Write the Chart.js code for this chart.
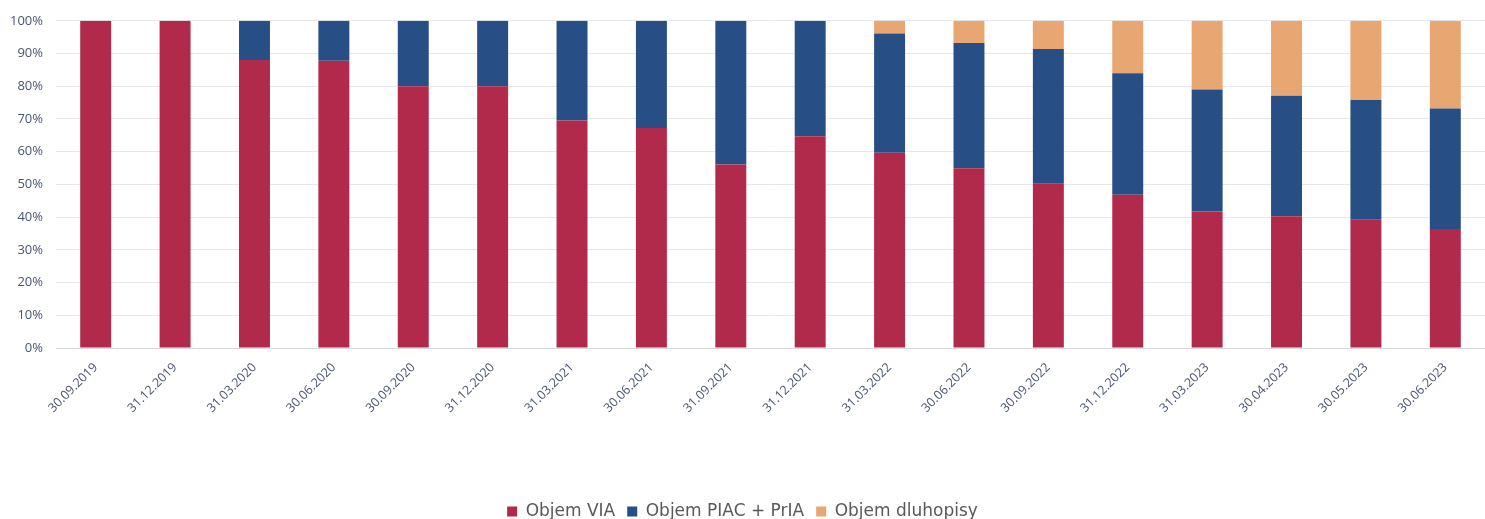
<!DOCTYPE html>
<html>
<head>
<meta charset="utf-8">
<script src="https://cdn.jsdelivr.net/npm/chart.js@4/dist/chart.umd.min.js"></script>
<style>
  html, body { margin: 0; padding: 0; background: #fff; }
  #wrap { width: 1485px; height: 519px; }
</style>
</head>
<body>
<div id="wrap"><canvas id="chart"></canvas></div>
<script>
const labels = ['30.09.2019', '31.12.2019', '31.03.2020', '30.06.2020', '30.09.2020', '31.12.2020',
    '31.03.2021', '30.06.2021', '31.09.2021', '31.12.2021', '31.03.2022', '30.06.2022',
    '30.09.2022', '31.12.2022', '31.03.2023', '30.04.2023', '30.05.2023', '30.06.2023'];

// shares in %
const objemVIA = [100, 100, 88.0, 87.8, 80.0, 80.0, 69.5, 67.2, 56.1, 64.7, 59.7, 54.9, 50.2, 46.8, 41.7, 40.3, 39.2, 36.4];
const objemPIAC = [0, 0, 12.0, 12.2, 20.0, 20.0, 30.5, 32.8, 43.9, 35.3, 36.4, 38.3, 41.2, 37.2, 37.3, 36.8, 36.6, 36.8];
const objemDluhopisy = [0, 0, 0, 0, 0, 0, 0, 0, 0, 0, 3.9, 6.8, 8.6, 16.0, 21.0, 22.9, 24.2, 26.8];

const yTicks = [0, 10, 20, 30, 40, 50, 60, 70, 80, 90, 100];

const colors = ['#b22a4b', '#274f85', '#e8a673'];

const ctx = document.getElementById('chart').getContext('2d');
new Chart(ctx, {
    type: 'bar',
    data: {
        labels: labels,
        datasets: [
            { label: 'Objem VIA', data: objemVIA, backgroundColor: colors[0] },
            { label: 'Objem PIAC + PrIA', data: objemPIAC, backgroundColor: colors[1] },
            { label: 'Objem dluhopisy', data: objemDluhopisy, backgroundColor: colors[2] }
        ]
    },
    options: {
        responsive: true,
        maintainAspectRatio: false,
        animation: false,
        devicePixelRatio: 1,
        datasets: {
            bar: { categoryPercentage: 1, barPercentage: 0.39 }
        },
        layout: { padding: { top: 18, right: 0, left: 0, bottom: -11 } },
        plugins: {
            tooltip: { enabled: false },
            legend: {
                position: 'bottom',
                labels: {
                    boxWidth: 10,
                    boxHeight: 10,
                    padding: 12,
                    color: '#595959',
                    font: { family: 'DejaVu Sans', size: 17 }
                }
            }
        },
        scales: {
            x: {
                stacked: true,
                grid: { display: false },
                border: { display: true, color: '#d9d9d9' },
                ticks: {
                    minRotation: 45,
                    maxRotation: 45,
                    padding: 4,
                    color: '#4a5570',
                    font: { family: 'Open Sans', size: 12.5 }
                },
                afterFit: function (axis) { axis.height = 143; }
            },
            y: {
                stacked: true,
                min: 0,
                max: 100,
                afterBuildTicks: function (axis) { axis.ticks = yTicks.map(v => ({ value: v })); },
                grid: { color: '#e5e7eb', drawTicks: false },
                border: { display: false },
                ticks: {
                    padding: 13,
                    color: '#4a5570',
                    font: { family: 'Open Sans', size: 13 },
                    callback: v => v + '%'
                },
                afterFit: function (axis) { axis.width = 56; }
            }
        }
    }
});
</script>
</body>
</html>
